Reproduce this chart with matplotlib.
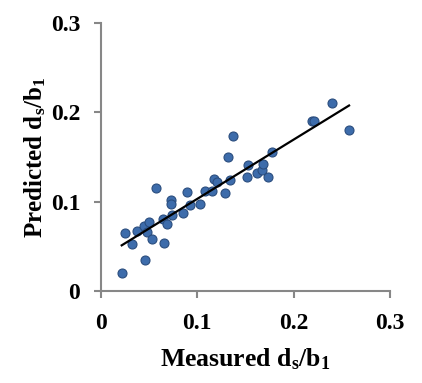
import numpy as np
import matplotlib
matplotlib.use("Agg")
import matplotlib.pyplot as plt

plt.rcParams['font.family'] = ['Liberation Serif', 'DejaVu Serif']
plt.rcParams['font.weight'] = 'bold'
plt.rcParams['mathtext.fontset'] = 'custom'
plt.rcParams['mathtext.rm'] = 'Liberation Serif:bold'
plt.rcParams['mathtext.it'] = 'Liberation Serif:italic:bold'
plt.rcParams['mathtext.bf'] = 'Liberation Serif:bold'

measured = [0.0215, 0.0452, 0.0249, 0.0319, 0.0371, 0.0447, 0.0498, 0.0475, 0.0526, 0.0651,
            0.0571, 0.0647, 0.0682, 0.0727, 0.0727, 0.0734, 0.0855, 0.0893, 0.0921, 0.1028,
            0.1080, 0.1150, 0.1170, 0.1200, 0.1288, 0.1322, 0.1343, 0.1514, 0.1526, 0.1615,
            0.1669, 0.1682, 0.1734, 0.1773, 0.1374, 0.2188, 0.2212, 0.2396, 0.2575]
predicted = [0.0198, 0.0347, 0.0653, 0.0526, 0.0675, 0.0733, 0.0767, 0.0666, 0.0577, 0.0532,
             0.1150, 0.0803, 0.0750, 0.1019, 0.0974, 0.0851, 0.0877, 0.1103, 0.0963, 0.0974,
             0.1123, 0.1114, 0.1254, 0.1221, 0.1094, 0.1497, 0.1246, 0.1280, 0.1411, 0.1321,
             0.1349, 0.1417, 0.1280, 0.1553, 0.1736, 0.1907, 0.1907, 0.2109, 0.1803]

x_ticks = [0, 0.1, 0.2, 0.3]
y_ticks = [0, 0.1, 0.2, 0.3]
x_ticklabels = ['0', '0.1', '0.2', '0.3']
y_ticklabels = ['0', '0.1', '0.2', '0.3']

fig = plt.figure(figsize=(4.22, 3.83), dpi=100)
ax = fig.add_axes([101/422, 1-291/383, 289/422, 268/383])

ax.scatter(measured, predicted, s=42, color='#3D6CAB', edgecolors='#2A4D7E',
           linewidths=0.8, zorder=3)

mx = np.array(measured)
py = np.array(predicted)
slope, intercept = np.polyfit(mx, py, 1)
xl = np.array([mx.min(), mx.max()])
ax.plot(xl, slope*xl + intercept, color='black', lw=1.6, zorder=4)

ax.set_xlim(0, 0.3)
ax.set_ylim(0, 0.3)
ax.set_xticks(x_ticks)
ax.set_xticklabels(x_ticklabels)
ax.set_yticks(y_ticks)
ax.set_yticklabels(y_ticklabels)

for s in ['top', 'right']:
    ax.spines[s].set_visible(False)
for s in ['left', 'bottom']:
    ax.spines[s].set_color('#878787')
    ax.spines[s].set_linewidth(1.5)
ax.tick_params(axis='both', colors='#878787', width=1.5, length=5, direction='out',
               labelsize=17, labelcolor='black')
ax.tick_params(axis='x', pad=11)
ax.tick_params(axis='y', pad=10)

ax.set_xlabel(r'Measured d$_\mathregular{s}$/b$_\mathregular{1}$', fontsize=18.5,
              fontweight='bold', labelpad=9)
ax.set_ylabel(r'Predicted d$_\mathregular{s}$/b$_\mathregular{1}$', fontsize=18,
              fontweight='bold', labelpad=2)

fig.savefig('out.png', dpi=100)
